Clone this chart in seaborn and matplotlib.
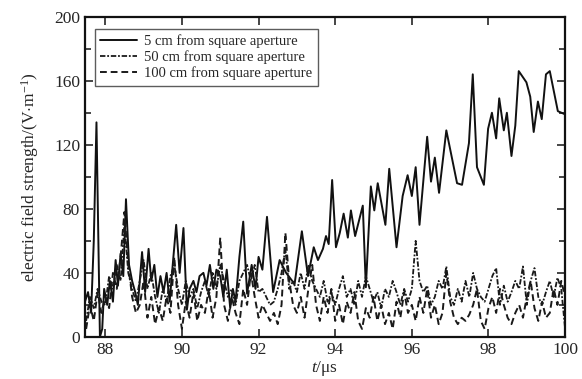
import matplotlib
matplotlib.use("Agg")
import matplotlib.pyplot as plt
import numpy as np
import pandas as pd
import seaborn as sns
from matplotlib.ticker import MultipleLocator

# 5 cm from square aperture (solid)
t_5cm = [87.47, 87.55, 87.63, 87.7, 87.77, 87.86, 87.92, 87.97, 88.05, 88.12,
         88.2, 88.27, 88.33, 88.4, 88.47, 88.54, 88.62, 88.7, 88.78, 88.85,
         88.96, 89.04, 89.13, 89.2, 89.28, 89.36, 89.44, 89.52, 89.6, 89.68,
         89.76, 89.85, 89.94, 90.04, 90.13, 90.2, 90.3, 90.38, 90.46, 90.56,
         90.64, 90.73, 90.82, 90.9, 91.0, 91.08, 91.17, 91.26, 91.33, 91.4,
         91.5, 91.6, 91.7, 91.82, 91.92, 92.0, 92.1, 92.22, 92.38, 92.55,
         92.72, 92.94, 93.13, 93.29, 93.44, 93.55, 93.68, 93.76, 93.83, 93.92,
         94.02, 94.12, 94.22, 94.33, 94.41, 94.52, 94.72, 94.8, 94.93, 95.02,
         95.11, 95.31, 95.41, 95.6, 95.76, 95.89, 96.0, 96.1, 96.2, 96.4,
         96.5, 96.6, 96.71, 96.9, 97.18, 97.31, 97.49, 97.59, 97.7, 97.88,
         97.99, 98.09, 98.2, 98.28, 98.4, 98.48, 98.6, 98.7, 98.79, 98.99,
         99.09, 99.18, 99.29, 99.39, 99.5, 99.6, 99.81, 100.0]
v_5cm = [22, 28, 15, 60, 134, 0, 5, 30, 20, 35,
         22, 48, 32, 52, 38, 86, 45, 35, 28, 20,
         53, 28, 55, 35, 45, 25, 38, 28, 40, 22,
         45, 70, 40, 68, 17, 30, 35, 28, 38, 40,
         32, 45, 30, 42, 38, 25, 42, 18, 30, 22,
         50, 72, 27, 45, 30, 50, 42, 75, 28, 48,
         40, 33, 66, 38, 56, 48, 55, 63, 58, 98,
         56, 65, 77, 62, 79, 63, 82, 31, 94, 79,
         96, 70, 105, 56, 88, 101, 88, 106, 70, 125,
         97, 112, 90, 129, 96, 95, 121, 164, 106, 95,
         130, 140, 124, 149, 129, 140, 113, 132, 166, 159,
         150, 128, 147, 136, 164, 166, 141, 139]

# 50 cm and 100 cm series share a 0.1 us sampling grid
t_grid = np.round(np.arange(87.5, 100.05, 0.1), 1)
v_50cm = [10, 25, 18, 30, 22, 20, 38, 30, 45, 35,
          70, 40, 30, 22, 35, 48, 30, 40, 25, 15,
          30, 22, 38, 45, 30, 20, 35, 25, 30, 18,
          28, 35, 25, 40, 30, 45, 35, 25, 30, 20,
          35, 40, 45, 35, 45, 28, 30, 25, 20, 22,
          30, 40, 55, 30, 35, 28, 40, 30, 45, 35,
          30, 25, 35, 22, 28, 20, 30, 38, 25, 30,
          20, 35, 25, 38, 30, 22, 28, 18, 30, 25,
          35, 28, 20, 30, 22, 30, 60, 35, 28, 32,
          20, 25, 35, 30, 44, 25, 20, 30, 22, 35,
          25, 40, 30, 25, 22, 30, 38, 43, 20, 32,
          22, 28, 35, 30, 44, 20, 35, 43, 25, 20,
          28, 35, 25, 37, 30, 5]
v_100cm = [5, 20, 10, 28, 15, 25, 18, 40, 30, 50,
           78, 45, 25, 15, 20, 35, 12, 25, 8, 18,
           10, 25, 15, 50, 20, 5, 22, 12, 28, 10,
           20, 15, 30, 12, 25, 62, 20, 10, 25, 15,
           8, 30, 20, 40, 25, 12, 20, 15, 10, 15,
           8, 20, 65, 35, 20, 15, 25, 12, 30, 45,
           20, 10, 25, 15, 30, 10, 20, 8, 22, 15,
           28, 10, 5, 18, 12, 25, 10, 20, 8, 15,
           5, 22, 12, 28, 15, 20, 10, 25, 15, 30,
           12, 20, 8, 15, 40, 22, 12, 8, 12, 10,
           14, 20, 30, 10, 5, 18, 25, 15, 30, 20,
           12, 8, 15, 20, 12, 25, 35, 18, 10, 22,
           12, 15, 30, 20, 35, 25]

labels = ["5 cm from square aperture",
          "50 cm from square aperture",
          "100 cm from square aperture"]

sns.set_style("ticks")
plt.rcParams["font.family"] = ["Liberation Serif", "DejaVu Serif"]
plt.rcParams["mathtext.fontset"] = "custom"
plt.rcParams["mathtext.rm"] = "Liberation Serif"
plt.rcParams["mathtext.it"] = "Liberation Serif:italic"

fig = plt.figure(figsize=(5.82, 3.79), dpi=100)
ax = fig.add_axes([0.146, 0.111, 0.825, 0.845])

df_5 = pd.DataFrame({"t": t_5cm, "v": v_5cm})
df_50 = pd.DataFrame({"t": t_grid, "v": v_50cm})
df_100 = pd.DataFrame({"t": t_grid, "v": v_100cm})

sns.lineplot(data=df_5, x="t", y="v", ax=ax, color="#111111", lw=1.4,
             label=labels[0])
sns.lineplot(data=df_50, x="t", y="v", ax=ax, color="#1a1a1a", lw=1.3,
             linestyle=(0, (3, 1, 1, 1)), label=labels[1])
sns.lineplot(data=df_100, x="t", y="v", ax=ax, color="#1a1a1a", lw=1.4,
             linestyle=(0, (3.5, 2)), label=labels[2])

ax.set_xlim(87.47, 100)
ax.set_ylim(0, 200)
ax.xaxis.set_major_locator(MultipleLocator(2))
ax.yaxis.set_major_locator(MultipleLocator(40))
ax.yaxis.set_minor_locator(MultipleLocator(20))
ax.tick_params(which="both", direction="in", top=True, right=True,
               labelsize=12.5, width=1.2)
ax.tick_params(which="major", length=6)
ax.tick_params(which="minor", length=4)
for s in ax.spines.values():
    s.set_linewidth(1.6)
    s.set_color("#111111")

ax.set_xlabel("$t$/μs", fontsize=12.5, labelpad=1)
ax.set_ylabel(r"electric field strength/(V$\cdot$m$^{-1}$)", fontsize=12.5,
              labelpad=9)

leg = ax.legend(loc="upper left", fontsize=10.5, frameon=True, fancybox=False,
                edgecolor="#333333", handlelength=2.5, borderpad=0.4,
                labelspacing=0.15, handletextpad=0.5,
                bbox_to_anchor=(0.005, 0.985))
leg.get_frame().set_linewidth(1.0)

fig.savefig("out.png", dpi=100)
